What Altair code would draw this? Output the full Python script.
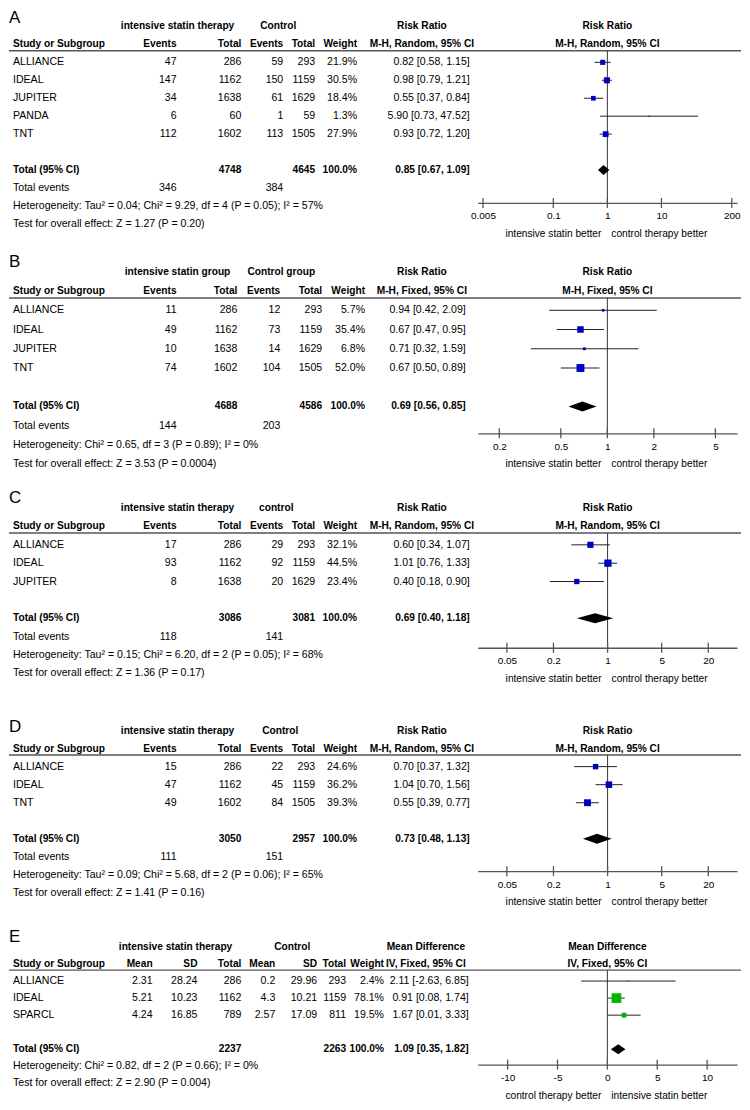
import altair as alt
import pandas as pd

FONT = "Liberation Sans, Arial, sans-serif"
LETTER_FONT = "Liberation Sans, Arial, sans-serif"
BODY = 10.6
BOLD = 10.2
BLUE = "#0000c0"
GREEN = "#00b400"
W = 734

# ---------------- Panel A ----------------
A_studies = ["ALLIANCE", "IDEAL", "JUPITER", "PANDA", "TNT"]
A_exp_events = [47, 147, 34, 6, 112]
A_exp_total = [286, 1162, 1638, 60, 1602]
A_ctl_events = [59, 150, 61, 1, 113]
A_ctl_total = [293, 1159, 1629, 59, 1505]
A_weight = [21.9, 30.5, 18.4, 1.3, 27.9]
A_est = [0.82, 0.98, 0.55, 5.90, 0.93]
A_lo = [0.58, 0.79, 0.37, 0.73, 0.72]
A_hi = [1.15, 1.21, 0.84, 47.52, 1.20]
A_totals = [4748, 4645]
A_total_events = [346, 384]
A_pooled = [0.85, 0.67, 1.09]
A_het = "Heterogeneity: Tau² = 0.04; Chi² = 9.29, df = 4 (P = 0.05); I² = 57%"
A_test = "Test for overall effect: Z = 1.27 (P = 0.20)"
A_groups = ["intensive statin therapy", "Control"]
A_method = "M-H, Random, 95% CI"
A_ticks = [0.005, 0.1, 1, 10, 200]

# ---------------- Panel B ----------------
B_studies = ["ALLIANCE", "IDEAL", "JUPITER", "TNT"]
B_exp_events = [11, 49, 10, 74]
B_exp_total = [286, 1162, 1638, 1602]
B_ctl_events = [12, 73, 14, 104]
B_ctl_total = [293, 1159, 1629, 1505]
B_weight = [5.7, 35.4, 6.8, 52.0]
B_est = [0.94, 0.67, 0.71, 0.67]
B_lo = [0.42, 0.47, 0.32, 0.50]
B_hi = [2.09, 0.95, 1.59, 0.89]
B_totals = [4688, 4586]
B_total_events = [144, 203]
B_pooled = [0.69, 0.56, 0.85]
B_het = "Heterogeneity: Chi² = 0.65, df = 3 (P = 0.89); I² = 0%"
B_test = "Test for overall effect: Z = 3.53 (P = 0.0004)"
B_groups = ["intensive statin group", "Control group"]
B_method = "M-H, Fixed, 95% CI"
B_ticks = [0.2, 0.5, 1, 2, 5]

# ---------------- Panel C ----------------
C_studies = ["ALLIANCE", "IDEAL", "JUPITER"]
C_exp_events = [17, 93, 8]
C_exp_total = [286, 1162, 1638]
C_ctl_events = [29, 92, 20]
C_ctl_total = [293, 1159, 1629]
C_weight = [32.1, 44.5, 23.4]
C_est = [0.60, 1.01, 0.40]
C_lo = [0.34, 0.76, 0.18]
C_hi = [1.07, 1.33, 0.90]
C_totals = [3086, 3081]
C_total_events = [118, 141]
C_pooled = [0.69, 0.40, 1.18]
C_het = "Heterogeneity: Tau² = 0.15; Chi² = 6.20, df = 2 (P = 0.05); I² = 68%"
C_test = "Test for overall effect: Z = 1.36 (P = 0.17)"
C_groups = ["intensive statin therapy", "control"]
C_method = "M-H, Random, 95% CI"
C_ticks = [0.05, 0.2, 1, 5, 20]

# ---------------- Panel D ----------------
D_studies = ["ALLIANCE", "IDEAL", "TNT"]
D_exp_events = [15, 47, 49]
D_exp_total = [286, 1162, 1602]
D_ctl_events = [22, 45, 84]
D_ctl_total = [293, 1159, 1505]
D_weight = [24.6, 36.2, 39.3]
D_est = [0.70, 1.04, 0.55]
D_lo = [0.37, 0.70, 0.39]
D_hi = [1.32, 1.56, 0.77]
D_totals = [3050, 2957]
D_total_events = [111, 151]
D_pooled = [0.73, 0.48, 1.13]
D_het = "Heterogeneity: Tau² = 0.09; Chi² = 5.68, df = 2 (P = 0.06); I² = 65%"
D_test = "Test for overall effect: Z = 1.41 (P = 0.16)"
D_groups = ["intensive statin therapy", "Control"]
D_method = "M-H, Random, 95% CI"
D_ticks = [0.05, 0.2, 1, 5, 20]

# ---------------- Panel E ----------------
E_studies = ["ALLIANCE", "IDEAL", "SPARCL"]
E_exp_mean = [2.31, 5.21, 4.24]
E_exp_sd = [28.24, 10.23, 16.85]
E_exp_total = [286, 1162, 789]
E_ctl_mean = [0.2, 4.3, 2.57]
E_ctl_sd = [29.96, 10.21, 17.09]
E_ctl_total = [293, 1159, 811]
E_weight = [2.4, 78.1, 19.5]
E_est = [2.11, 0.91, 1.67]
E_lo = [-2.63, 0.08, 0.01]
E_hi = [6.85, 1.74, 3.33]
E_totals = [2237, 2263]
E_pooled = [1.09, 0.35, 1.82]
E_het = "Heterogeneity: Chi² = 0.82, df = 2 (P = 0.66); I² = 0%"
E_test = "Test for overall effect: Z = 2.90 (P = 0.004)"
E_groups = ["intensive statin therapy", "Control"]
E_method = "IV, Fixed, 95% CI"
E_ticks = [-10, -5, 0, 5, 10]

RR_HEAD = ["Events", "Total", "Events", "Total"]
FAV_RR = ["intensive statin better", "control therapy better"]
FAV_MD = ["control therapy better", "intensive statin better"]

panels = [
    dict(letter="A", studies=A_studies, exp_cols=[A_exp_events, A_exp_total],
         ctl_cols=[A_ctl_events, A_ctl_total], heads=RR_HEAD, weight=A_weight,
         est=A_est, lo=A_lo, hi=A_hi, totals=A_totals, total_events=A_total_events,
         pooled=A_pooled, het=A_het, test=A_test, groups=A_groups, measure="Risk Ratio",
         method=A_method, ticks=A_ticks, fav=FAV_RR, null=1),
    dict(letter="B", studies=B_studies, exp_cols=[B_exp_events, B_exp_total],
         ctl_cols=[B_ctl_events, B_ctl_total], heads=RR_HEAD, weight=B_weight,
         est=B_est, lo=B_lo, hi=B_hi, totals=B_totals, total_events=B_total_events,
         pooled=B_pooled, het=B_het, test=B_test, groups=B_groups, measure="Risk Ratio",
         method=B_method, ticks=B_ticks, fav=FAV_RR, null=1),
    dict(letter="C", studies=C_studies, exp_cols=[C_exp_events, C_exp_total],
         ctl_cols=[C_ctl_events, C_ctl_total], heads=RR_HEAD, weight=C_weight,
         est=C_est, lo=C_lo, hi=C_hi, totals=C_totals, total_events=C_total_events,
         pooled=C_pooled, het=C_het, test=C_test, groups=C_groups, measure="Risk Ratio",
         method=C_method, ticks=C_ticks, fav=FAV_RR, null=1),
    dict(letter="D", studies=D_studies, exp_cols=[D_exp_events, D_exp_total],
         ctl_cols=[D_ctl_events, D_ctl_total], heads=RR_HEAD, weight=D_weight,
         est=D_est, lo=D_lo, hi=D_hi, totals=D_totals, total_events=D_total_events,
         pooled=D_pooled, het=D_het, test=D_test, groups=D_groups, measure="Risk Ratio",
         method=D_method, ticks=D_ticks, fav=FAV_RR, null=1),
    dict(letter="E", studies=E_studies, exp_cols=[E_exp_mean, E_exp_sd, E_exp_total],
         ctl_cols=[E_ctl_mean, E_ctl_sd, E_ctl_total], heads=["Mean", "SD", "Total", "Mean", "SD", "Total"],
         weight=E_weight, est=E_est, lo=E_lo, hi=E_hi, totals=E_totals, total_events=None,
         pooled=E_pooled, het=E_het, test=E_test, groups=E_groups, measure="Mean Difference",
         method=E_method, ticks=E_ticks, fav=FAV_MD, null=0),
]

# ---------------- layout (pixels, chart-local x) ----------------
RR_COLS = {"study": (4, "left"), "v0": (168, "right"), "v1": (233, "right"), "v2": (275, "right"),
           "v3": (307, "right"), "w": (349, "right"), "ci": (462, "right"),
           "g0": (169, "center"), "g1": (270, "center"), "m": (414, "center")}
B_COLS = dict(RR_COLS, v1=(229, "right"), v2=(272, "right"), v3=(314, "right"), w=(357, "right"),
              ci=(458, "right"), g1=(273, "center"))
E_COLS = {"study": (4, "left"), "v0": (144, "right"), "v1": (189, "right"), "v2": (233, "right"),
          "v3": (267, "right"), "v4": (309, "right"), "v5": (338, "right"), "w": (376, "right"),
          "ci": (461, "right"), "g0": (167, "center"), "g1": (284, "center"), "m": (418, "center")}

layouts = [
    dict(top=8, hdr=23, pitch=18.0, axis=200, letter_y=7, cols=RR_COLS, log=True,
         xdomain=[0.004, 250], size_max=120, color=BLUE),
    dict(top=200, hdr=269, pitch=19.3, axis=431, letter_y=59, cols=B_COLS, log=True,
         xdomain=[0.145, 6.9], size_max=120, color=BLUE),
    dict(top=431, hdr=506, pitch=18.4, axis=646, letter_y=65, cols=dict(RR_COLS, g1=(268, "center")),
         log=True, xdomain=[0.021, 47], size_max=110, color=BLUE),
    dict(top=646, hdr=729, pitch=18.1, axis=870, letter_y=79, cols=dict(RR_COLS, g1=(272, "center")),
         log=True, xdomain=[0.021, 47], size_max=110, color=BLUE),
    dict(top=870, hdr=946, pitch=17.1, axis=1064, letter_y=66, cols=E_COLS, log=False,
         xdomain=[-13, 13], size_max=185, color=GREEN),
]
X_RANGE = [470, 730]


def fmt(v):
    return str(v)


def make_panel(p, lay):
    n = len(p["studies"])
    H = lay["axis"] - lay["top"]
    y0 = lay["hdr"] - lay["top"]
    pitch = lay["pitch"]
    ul = y0 + 1.36 * pitch
    yscale = alt.Scale(domain=[0, 10], range=[y0, y0 + 10 * pitch], nice=False, zero=False)
    Y = lambda f: alt.Y(f, scale=yscale, axis=None)

    values = p["exp_cols"] + p["ctl_cols"]
    ne = len(p["exp_cols"])
    nv = len(values)
    cells = [(0, "g0", p["groups"][0], True), (0, "g1", p["groups"][1], True),
             (0, "m", p["measure"], True), (1, "study", "Study or Subgroup", True)]
    for j, h in enumerate(p["heads"]):
        cells.append((1, f"v{j}", h, True))
    cells.append((1, "w", "Weight", True))
    cells.append((1, "m", p["method"], True))
    for i, s in enumerate(p["studies"]):
        r = 2 + i
        cells.append((r, "study", s, False))
        for j, col in enumerate(values):
            cells.append((r, f"v{j}", fmt(col[i]), False))
        cells.append((r, "w", f"{p['weight'][i]:.1f}%", False))
        cells.append((r, "ci", f"{p['est'][i]:.2f} [{p['lo'][i]:.2f}, {p['hi'][i]:.2f}]", False))
    rt = n + 3
    pe, pl, ph = p["pooled"]
    cells += [(rt, "study", "Total (95% CI)", True), (rt, f"v{ne-1}", fmt(p["totals"][0]), True),
              (rt, f"v{nv-1}", fmt(p["totals"][1]), True), (rt, "w", "100.0%", True),
              (rt, "ci", f"{pe:.2f} [{pl:.2f}, {ph:.2f}]", True)]
    r = rt + 1
    if p["total_events"]:
        cells += [(r, "study", "Total events", False), (r, "v0", fmt(p["total_events"][0]), False),
                  (r, f"v{ne}", fmt(p["total_events"][1]), False)]
        r += 1
    cells += [(r, "study", p["het"], False), (r + 1, "study", p["test"], False)]

    layers = []
    layers.append(alt.Chart(pd.DataFrame({"a": [0]})).mark_rule(color="#555555", strokeWidth=1.5)
                  .encode(x=alt.value(0), x2=alt.value(W), y=alt.value(ul)))

    if lay["log"]:
        xscale = alt.Scale(type="log", domain=lay["xdomain"], range=X_RANGE, nice=False)
    else:
        xscale = alt.Scale(type="linear", domain=lay["xdomain"], range=X_RANGE, nice=False, zero=False)
    xaxis = alt.Axis(values=p["ticks"], labelExpr="toString(datum.value)", ticks=False, grid=False,
                     domainColor="#555555", domainWidth=1.3, labelFont=FONT, labelFontSize=10,
                     labelColor="black", labelPadding=8, labelFlush=False, labelOverlap=False,
                     title=None)
    X = lambda f: alt.X(f, scale=xscale, axis=xaxis)

    null_df = pd.DataFrame({"x": [p["null"]]})
    layers.append(alt.Chart(null_df).mark_rule(color="#333333", strokeWidth=1)
                  .encode(x=X("x:Q"), y=alt.value(ul), y2=alt.value(H)))

    sdf = pd.DataFrame({"row": [2 + i for i in range(n)], "est": p["est"], "lo": p["lo"],
                        "hi": p["hi"], "weight": p["weight"]})
    layers.append(alt.Chart(sdf).mark_rule(color="#222222", strokeWidth=1)
                  .encode(x=X("lo:Q"), x2="hi:Q", y=Y("row:Q")))
    layers.append(alt.Chart(sdf).mark_square(filled=True, opacity=1, color=lay["color"])
                  .encode(x=X("est:Q"), y=Y("row:Q"),
                          size=alt.Size("weight:Q", scale=alt.Scale(domain=[0, 100], range=[0, lay["size_max"]]),
                                        legend=None)))
    h = 5.0 / pitch
    ddf = pd.DataFrame({"x": [pl, pe, ph], "y1": [rt, rt - h, rt], "y2": [rt, rt + h, rt]})
    layers.append(alt.Chart(ddf).mark_area(color="black", orient="vertical")
                  .encode(x=X("x:Q"), y=Y("y1:Q"), y2="y2:Q"))
    tdf = pd.DataFrame({"x": p["ticks"]})
    layers.append(alt.Chart(tdf).mark_rule(color="#555555", strokeWidth=1.3)
                  .encode(x=X("x:Q"), y=alt.value(H - 5), y2=alt.value(H + 5)))
    hdf = pd.DataFrame({"x": [p["null"], p["null"]], "row": [0, 1], "text": [p["measure"], p["method"]]})
    layers.append(alt.Chart(hdf).mark_text(font=FONT, fontSize=BOLD, fontWeight="bold", color="black",
                                           align="center", baseline="middle")
                  .encode(x=X("x:Q"), y=Y("row:Q"), text="text:N"))
    fl = pd.DataFrame({"x": [p["null"]], "text": [p["fav"][0]]})
    fr = pd.DataFrame({"x": [p["null"]], "text": [p["fav"][1]]})
    layers.append(alt.Chart(fl).mark_text(font=FONT, fontSize=10.2, color="black", align="right",
                                          baseline="middle", dx=-6)
                  .encode(x=X("x:Q"), y=alt.value(H + 31), text="text:N"))
    layers.append(alt.Chart(fr).mark_text(font=FONT, fontSize=10.2, color="black", align="left",
                                          baseline="middle", dx=4)
                  .encode(x=X("x:Q"), y=alt.value(H + 31), text="text:N"))

    groups = {}
    for r_, k, t, b in cells:
        groups.setdefault((k, b), []).append({"row": r_, "text": t})
    for (k, b), recs in groups.items():
        x, align = lay["cols"][k]
        layers.append(alt.Chart(pd.DataFrame(recs))
                      .mark_text(align=align, baseline="middle", font=FONT,
                                 fontSize=BOLD if b else BODY,
                                 fontWeight="bold" if b else "normal", color="black")
                      .encode(x=alt.value(x), y=Y("row:Q"), text="text:N"))

    layers.append(alt.Chart(pd.DataFrame({"t": [p["letter"]]}))
                  .mark_text(font=LETTER_FONT, fontSize=17, align="left", baseline="middle", color="black")
                  .encode(x=alt.value(0), y=alt.value(lay["letter_y"]), text="t:N"))

    return alt.layer(*layers).properties(width=W, height=H)


charts = [make_panel(p, l) for p, l in zip(panels, layouts)]
chart = (alt.vconcat(*charts, spacing=0, bounds="flush")
         .properties(padding=0, background="white")
         .configure_view(stroke=None))

chart.save("out.html", embed_options={"renderer": "svg", "actions": False})
